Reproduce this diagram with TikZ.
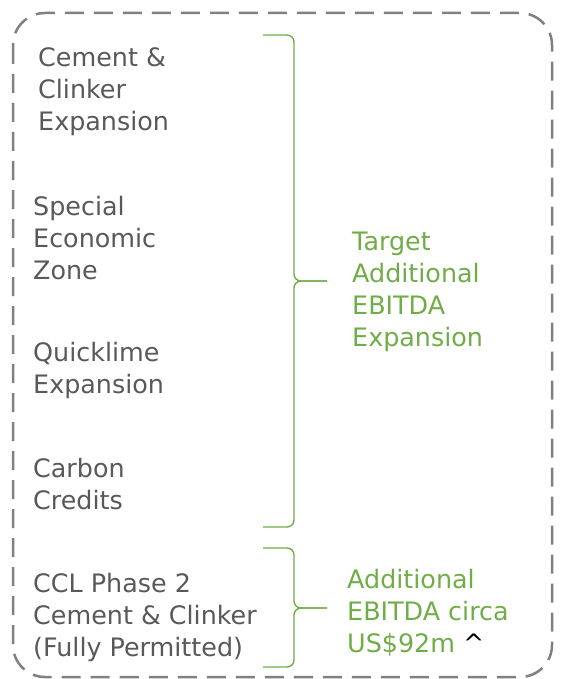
\documentclass[tikz,border=0pt]{standalone}
\usepackage{fontspec}
\setmainfont{DejaVu Sans}
\usetikzlibrary{positioning}
\definecolor{projgray}{RGB}{89,89,89}
\definecolor{framegray}{RGB}{128,128,128}
\definecolor{ebitdagreen}{RGB}{112,173,71}
\tikzset{
  project/.style = {anchor=base west, align=left, inner sep=0pt,
    text=projgray, font=\fontsize{25.4}{32}\selectfont},% projects on the left, placed by last baseline
  target/.style = {project, text=ebitdagreen},% EBITDA figures on the right
  bracket/.style = {draw=ebitdagreen, line width=1.4pt, rounded corners=7pt},
  frame/.style = {draw=framegray, line width=2.5pt,
    dash pattern=on 19pt off 10pt, rounded corners=32pt}
}

\begin{document}
\begin{tikzpicture}[x=1pt,y=-1pt]
\useasboundingbox (0,0) rectangle (563,679);
\draw [frame] (13,13) rectangle (552,677);

% projects
\node [project] (cement)  at (38,131) {Cement \&\\Clinker\\Expansion};
\node [project] (sez)     at (33,279) {Special\\Economic\\Zone};
\node [project] (lime)    at (33,393) {Quicklime\\Expansion};
\node [project] (carbon)  at (33,509) {Carbon\\Credits};
\node [project] (phase)   at (33,656) {CCL Phase 2\\Cement \& Clinker\\(Fully Permitted)};

% braces
\coordinate (upTop) at (263,35);
\coordinate (upBot) at (263,527);
\coordinate (upTip) at (327,281);
\draw [bracket] (upTop) -- ++(31,0) |- (upTip);
\draw [bracket] (upBot) -- ++(31,0) |- (upTip);

\coordinate (lowTop) at (263,548);
\coordinate (lowBot) at (263,667);
\coordinate (lowTip) at (327,608);
\draw [bracket] (lowTop) -- ++(31,0) |- (lowTip);
\draw [bracket] (lowBot) -- ++(31,0) |- (lowTip);

% targets
\node [target] (expand) at (352,346) {Target\\Additional\\EBITDA\\Expansion};
\node [target] (circa)  at (347,652) {Additional\\EBITDA circa\\US\$92m {\color{black}\textasciicircum}};
\end{tikzpicture}
\end{document}
